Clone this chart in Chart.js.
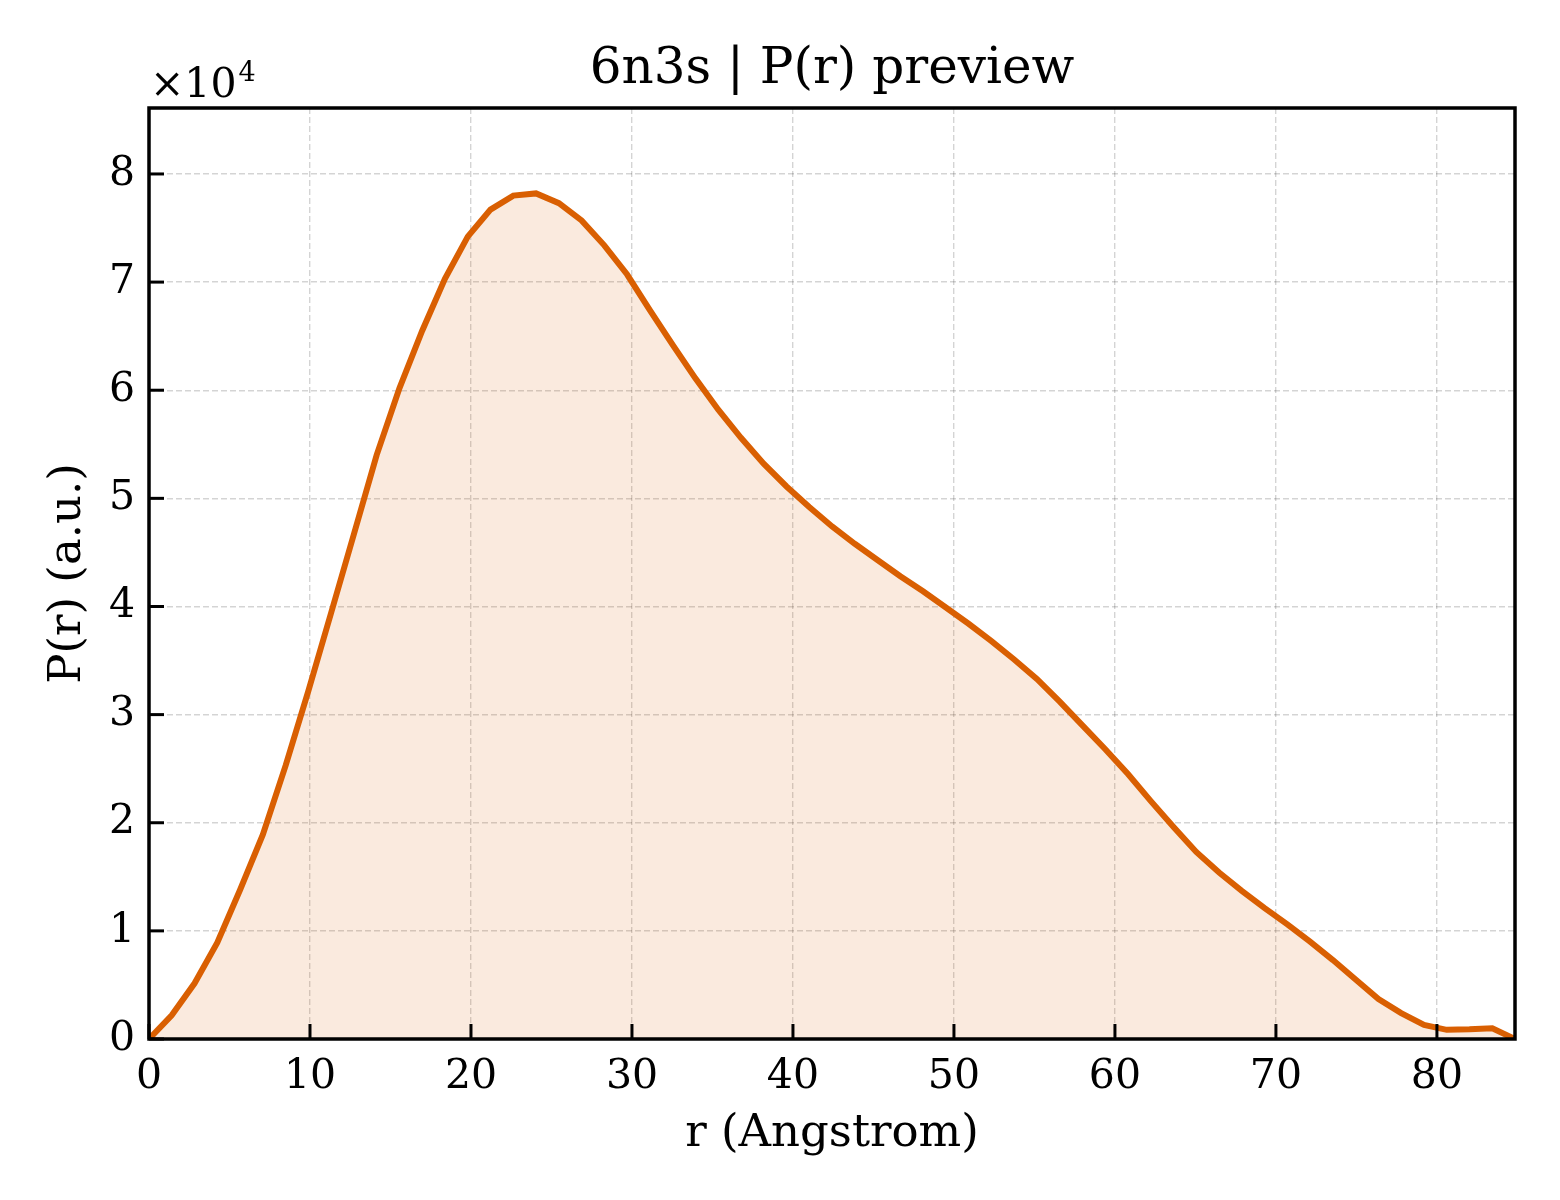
<!DOCTYPE html>
<html>
<head>
<meta charset="utf-8">
<script src="https://cdn.jsdelivr.net/npm/chart.js@4.4.1/dist/chart.umd.min.js"></script>
<style>
  html, body { margin: 0; padding: 0; background: #fff; }
  #wrap { width: 1560px; height: 1200px; }
</style>
</head>
<body>
<div id="wrap"><canvas id="prChart" width="1560" height="1200"></canvas></div>
<script>
// r grid (Angstrom)
const rValues = [0.00, 1.41, 2.83, 4.24, 5.66, 7.07, 8.49, 9.90, 11.31, 12.73, 14.14, 15.56, 16.97, 18.38, 19.80,
  21.21, 22.63, 24.04, 25.46, 26.87, 28.28, 29.70, 31.11, 32.53, 33.94, 35.36, 36.77, 38.18, 39.60, 41.01,
  42.43, 43.84, 45.25, 46.67, 48.08, 49.50, 50.91, 52.33, 53.74, 55.15, 56.57, 57.98, 59.40, 60.81, 62.23,
  63.64, 65.05, 66.47, 67.88, 69.30, 70.71, 72.12, 73.54, 74.95, 76.37, 77.78, 79.20, 80.61, 82.02, 83.44, 84.85];

// P(r), arbitrary units
const pValues = [0, 2200, 5150, 8900, 13800, 18900, 25300, 32200, 39400, 46700, 54000, 60200, 65500, 70300, 74200,
  76700, 78000, 78200, 77300, 75700, 73400, 70700, 67400, 64200, 61100, 58200, 55600, 53200, 51100, 49200,
  47400, 45800, 44300, 42800, 41400, 39900, 38400, 36800, 35100, 33300, 31200, 29000, 26800, 24500, 22000,
  19600, 17300, 15400, 13700, 12100, 10600, 9000, 7300, 5500, 3700, 2400, 1300, 850, 900, 1000, 0];

const xTicks = [0, 10, 20, 30, 40, 50, 60, 70, 80];
const yTicks = [0, 1, 2, 3, 4, 5, 6, 7, 8];   // in units of 1e4

const titleText = "6n3s | P(r) preview";
const xLabel = "r (Angstrom)";
const yLabel = "P(r) (a.u.)";

const serif = "'DejaVu Serif', 'Liberation Serif', serif";
const lineColor = "#d95f02";

const points = rValues.map((r, i) => ({ x: r, y: pValues[i] }));

// white background + frame, inward ticks, titles
const decorations = {
  id: "decorations",
  beforeDraw(chart) {
    const ctx = chart.ctx;
    ctx.save();
    ctx.fillStyle = "#fff";
    ctx.fillRect(0, 0, chart.width, chart.height);
    ctx.restore();
  },
  afterDraw(chart) {
    const { ctx, chartArea: a, scales } = chart;
    ctx.save();

    // inward ticks on left and bottom
    ctx.strokeStyle = "#000";
    ctx.lineWidth = 3;
    xTicks.forEach(v => {
      const px = scales.x.getPixelForValue(v);
      ctx.beginPath();
      ctx.moveTo(px, a.bottom);
      ctx.lineTo(px, a.bottom - 15);
      ctx.stroke();
    });
    yTicks.forEach(v => {
      const py = scales.y.getPixelForValue(v * 10000);
      ctx.beginPath();
      ctx.moveTo(a.left, py);
      ctx.lineTo(a.left + 15, py);
      ctx.stroke();
    });

    // frame
    ctx.lineWidth = 3.5;
    ctx.strokeRect(a.left, a.top, a.right - a.left, a.bottom - a.top);

    ctx.fillStyle = "#000";
    const cx = (a.left + a.right) / 2;

    // title
    ctx.font = "50px " + serif;
    ctx.textAlign = "center";
    ctx.textBaseline = "alphabetic";
    ctx.fillText(titleText, cx, 83);

    // x label
    ctx.font = "45px " + serif;
    ctx.fillText(xLabel, cx, 1146);

    // y label
    ctx.save();
    ctx.translate(80, (a.top + a.bottom) / 2);
    ctx.rotate(-Math.PI / 2);
    ctx.fillText(yLabel, 0, 0);
    ctx.restore();

    // offset text  x10^4
    ctx.textAlign = "left";
    ctx.font = "41px " + serif;
    const base = "\u00d710";
    ctx.fillText(base, 150, 97);
    const w = ctx.measureText(base).width;
    ctx.font = "27px " + serif;
    ctx.fillText("4", 150 + w + 2, 81);

    ctx.restore();
  }
};

new Chart(document.getElementById("prChart"), {
  type: "line",
  data: {
    datasets: [{
      data: points,
      borderColor: lineColor,
      backgroundColor: "rgba(217, 95, 2, 0.13)",
      borderWidth: 6,
      fill: "origin",
      tension: 0,
      pointRadius: 0,
      pointHoverRadius: 0
    }]
  },
  options: {
    responsive: false,
    animation: false,
    devicePixelRatio: 1,
    layout: { padding: { top: 108, right: 45, left: 0, bottom: 0 } },
    plugins: {
      legend: { display: false },
      tooltip: { enabled: false },
      title: { display: false }
    },
    scales: {
      x: {
        type: "linear",
        min: 0,
        max: 84.85,
        afterFit: s => { s.height = 161; },
        afterBuildTicks: s => { s.ticks = xTicks.map(v => ({ value: v })); },
        ticks: {
          maxRotation: 0,
          autoSkip: false,
          padding: 14,
          color: "#000",
          font: { family: serif, size: 41 },
          callback: v => String(v)
        },
        grid: { color: "rgba(0,0,0,0.17)", lineWidth: 1.4, drawTicks: false },
        border: { display: false, dash: [6, 3] }
      },
      y: {
        type: "linear",
        min: 0,
        max: 86100,
        afterFit: s => { s.width = 149; },
        afterBuildTicks: s => { s.ticks = yTicks.map(v => ({ value: v * 10000 })); },
        ticks: {
          autoSkip: false,
          padding: 14,
          color: "#000",
          font: { family: serif, size: 41 },
          callback: v => String(Math.round(v / 10000))
        },
        grid: { color: "rgba(0,0,0,0.17)", lineWidth: 1.4, drawTicks: false },
        border: { display: false, dash: [6, 3] }
      }
    }
  },
  plugins: [decorations]
});
</script>
</body>
</html>
